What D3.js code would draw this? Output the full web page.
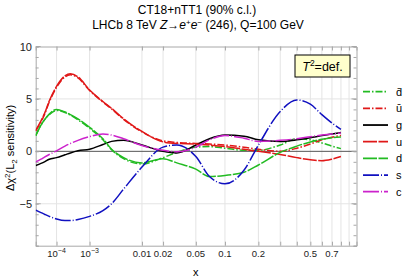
<!DOCTYPE html>
<html>
<head>
<meta charset="utf-8">
<script src="https://cdn.jsdelivr.net/npm/d3@7"></script>
<style>
  body { margin: 0; background: #fff; }
  svg { font-family: "Liberation Sans", Arial, sans-serif; }
</style>
</head>
<body>
<div id="chart-area"></div>
<script>
// x grid shared by all curves
const xGrid = [1e-5, 2e-5, 3e-5, 5e-5, 1e-4, 2e-4, 3e-4, 5e-4, 1e-3, 2e-3, 3e-3, 5e-3,
    0.01, 0.02, 0.03, 0.05, 0.07, 0.1, 0.15, 0.2, 0.3, 0.4, 0.5, 0.6, 0.7, 0.8];

// delta chi^2 values
const dbar = [1.5, 2.5, 3.0, 3.5, 3.9, 3.7, 3.45, 3.0, 2.2, 1.1, 0.15, -0.7, -1.2, -0.6, -0.1, 0.4, 0.45, 0.3, 0.1, 0.1, 0.6, 1.2, 1.1, 0.8, 0.5, 0.26];
const ubar = [1.95, 2.8, 3.5, 4.7, 6.1, 7.1, 7.3, 7.0, 5.8, 4.7, 4.05, 3.05, 1.85, 1.0, 0.85, 0.75, 0.7, 0.6, 0.4, 0.2, 0.0, 0.3, 0.7, 1.1, 1.35, 1.5];
const g = [-1.35, -1.15, -1.0, -0.75, -0.6, -0.33, -0.15, 0.05, 0.2, 0.65, 0.95, 1.05, 0.6, 0.0, -0.15, 0.6, 1.2, 1.55, 1.45, 1.1, 0.95, 1.1, 1.3, 1.5, 1.65, 1.8];
const u = [2.0, 2.9, 3.6, 4.8, 6.2, 7.2, 7.4, 7.1, 5.85, 4.75, 4.1, 3.1, 1.9, 0.9, 0.75, 0.7, 0.6, 0.45, 0.2, 0.0, -0.3, -0.6, -0.8, -0.9, -0.75, -0.5];
const d = [1.5, 2.5, 3.0, 3.55, 4.0, 3.75, 3.5, 3.1, 2.3, 1.2, 0.2, -0.6, -1.1, -0.7, -1.1, -1.7, -2.4, -2.3, -2.0, -1.3, -0.1, 0.5, 0.9, 1.15, 1.3, 1.37];
const s = [-5.6, -5.85, -6.0, -6.2, -6.45, -6.6, -6.6, -6.5, -6.2, -5.65, -5.0, -3.6, -1.5, 0.4, 0.6, -0.5, -2.4, -3.1, -1.8, 0.6, 3.8, 4.9, 4.5, 3.5, 2.7, 2.1];
const c = [-1.0, -0.75, -0.55, -0.3, 0.05, 0.5, 0.75, 1.05, 1.4, 1.65, 1.55, 1.2, 0.55, 0.1, -0.05, 0.4, 1.1, 1.5, 1.25, 0.95, 1.05, 1.2, 1.4, 1.55, 1.65, 1.75];

const seriesNames = ["d\u0304", "u\u0304", "g", "u", "d", "s", "c"];
const seriesValues = [dbar, ubar, g, u, d, s, c];
const seriesColors = ["#22bb22", "#e01818", "#000000", "#e01818", "#22bb22", "#1010c0", "#cc22cc"];
const seriesDash = ["7,2,1.5,2", "7,2,1.5,2", null, "14,1.5", "14,1.5", "16,2,1,2", "16,2,1,2"];

// axis ticks
const xTicks = [1e-4, 1e-3, 0.01, 0.02, 0.05, 0.1, 0.2, 0.3, 0.4, 0.5, 0.6, 0.7, 0.8, 0.9];
const xLabels = [
    { v: 1e-4, base: "10", exp: "\u22124" },
    { v: 1e-3, base: "10", exp: "\u22123" },
    { v: 0.01, base: "0.01" }, { v: 0.02, base: "0.02" }, { v: 0.05, base: "0.05" },
    { v: 0.1, base: "0.1" }, { v: 0.2, base: "0.2" }, { v: 0.5, base: "0.5" }, { v: 0.7, base: "0.7" }
];
const yMajor = [-5, 0, 5, 10];
const yLabels = ["\u22125", "0", "5", "10"];

const W = 407, H = 279;
const plot = { left: 35.7, right: 356.5, top: 46.5, bottom: 245.7 };

const svg = d3.select("#chart-area")
    .append("svg")
    .attr("width", W)
    .attr("height", H);

// scales: pow 0.2 on x, linear on y
const x = d3.scalePow().exponent(0.2)
    .domain([1e-5, 1])
    .range([plot.left, plot.right]);

const y = d3.scaleLinear()
    .domain([-9, 10])
    .range([plot.bottom, plot.top]);

// gridlines
svg.append("g").selectAll("line")
    .data(xTicks)
    .enter().append("line")
    .attr("x1", v => x(v)).attr("x2", v => x(v))
    .attr("y1", plot.top).attr("y2", plot.bottom)
    .attr("stroke", "#e4e4e4").attr("stroke-width", 1);

svg.append("g").selectAll("line")
    .data([-5, 5])
    .enter().append("line")
    .attr("x1", plot.left).attr("x2", plot.right)
    .attr("y1", v => y(v)).attr("y2", v => y(v))
    .attr("stroke", "#e4e4e4").attr("stroke-width", 1);

// zero line
svg.append("line")
    .attr("x1", plot.left).attr("x2", plot.right)
    .attr("y1", y(0)).attr("y2", y(0))
    .attr("stroke", "#555").attr("stroke-width", 1);

// axes with inward ticks
const bottomAxis = d3.axisBottom(x).tickValues(xTicks).tickSize(-4).tickFormat("");
const topAxis = d3.axisTop(x).tickValues(xTicks).tickSize(-4).tickFormat("");
const yTicksAll = d3.range(-9, 11);
const leftAxis = d3.axisLeft(y).tickValues(yTicksAll).tickSize(-3).tickFormat("");
const rightAxis = d3.axisRight(y).tickValues(yTicksAll).tickSize(-3).tickFormat("");

function styleAxis(sel) {
    sel.select(".domain").attr("stroke", "#a8a8a8");
    sel.selectAll(".tick line").attr("stroke", "#a8a8a8");
}

svg.append("g").attr("transform", `translate(0,${plot.bottom})`).call(bottomAxis).call(styleAxis);
svg.append("g").attr("transform", `translate(0,${plot.top})`).call(topAxis).call(styleAxis);
svg.append("g").attr("transform", `translate(${plot.left},0)`).call(leftAxis).call(styleAxis);
svg.append("g").attr("transform", `translate(${plot.right},0)`).call(rightAxis).call(styleAxis);

// longer major y ticks
[plot.left, plot.right].forEach((px, i) => {
    svg.append("g").selectAll("line")
        .data(yMajor)
        .enter().append("line")
        .attr("x1", px).attr("x2", i === 0 ? px + 5 : px - 5)
        .attr("y1", v => y(v)).attr("y2", v => y(v))
        .attr("stroke", "#a8a8a8");
});

// x tick labels
const xl = svg.append("g").selectAll("text")
    .data(xLabels)
    .enter().append("text")
    .attr("x", dd => x(dd.v))
    .attr("y", 257)
    .attr("text-anchor", "middle")
    .attr("font-size", "9.5px")
    .attr("fill", "#222");
xl.append("tspan").text(dd => dd.base);
xl.filter(dd => dd.exp).append("tspan")
    .attr("dy", -4).attr("font-size", "7px")
    .text(dd => dd.exp);

// y tick labels
svg.append("g").selectAll("text")
    .data(yMajor)
    .enter().append("text")
    .attr("x", 32)
    .attr("y", v => y(v) + 4)
    .attr("text-anchor", "end")
    .attr("font-size", "11px")
    .attr("fill", "#222")
    .text((v, i) => yLabels[i]);

// axis labels
svg.append("text")
    .attr("x", x(0.05))
    .attr("y", 276)
    .attr("text-anchor", "middle")
    .attr("font-size", "11px")
    .text("x");

const yl = svg.append("text")
    .attr("transform", "translate(14,148) rotate(-90)")
    .attr("text-anchor", "middle")
    .attr("font-size", "11px");
yl.append("tspan").text("\u0394\u03c7");
yl.append("tspan").attr("dy", -4).attr("font-size", "8px").text("2");
yl.append("tspan").attr("dy", 4).text("(L");
yl.append("tspan").attr("dy", 3).attr("font-size", "8px").text("2");
yl.append("tspan").attr("dy", -3).text(" sensitivity)");

// title
svg.append("text")
    .attr("x", 197).attr("y", 14)
    .attr("text-anchor", "middle")
    .attr("font-size", "12px")
    .text("CT18+nTT1 (90% c.l.)");

const t2 = svg.append("text")
    .attr("x", 198).attr("y", 29)
    .attr("text-anchor", "middle")
    .attr("font-size", "12px");
t2.append("tspan").text("LHCb 8 TeV ");
t2.append("tspan").attr("font-style", "italic").text("Z");
t2.append("tspan").text("\u2192");
t2.append("tspan").attr("font-style", "italic").text("e");
t2.append("tspan").attr("dy", -4).attr("font-size", "8px").text("+");
t2.append("tspan").attr("dy", 4).attr("font-style", "italic").text("e");
t2.append("tspan").attr("dy", -4).attr("font-size", "8px").text("\u2212");
t2.append("tspan").attr("dy", 4).text(" (246), Q=100 GeV");

// curves
svg.append("clipPath").attr("id", "clip")
    .append("rect")
    .attr("x", plot.left).attr("y", plot.top)
    .attr("width", plot.right - plot.left).attr("height", plot.bottom - plot.top);

const line = d3.line()
    .x((v, i) => x(xGrid[i]))
    .y(v => y(v))
    .curve(d3.curveMonotoneX);

const curves = svg.append("g").attr("clip-path", "url(#clip)");
seriesValues.forEach((vals, i) => {
    curves.append("path")
        .attr("d", line(vals))
        .attr("fill", "none")
        .attr("stroke", seriesColors[i])
        .attr("stroke-width", 1.5)
        .attr("stroke-dasharray", seriesDash[i]);
});

// T^2 box
svg.append("rect")
    .attr("x", 295).attr("y", 55)
    .attr("width", 55).attr("height", 22)
    .attr("fill", "#ffffcc")
    .attr("stroke", "#000").attr("stroke-width", 1);
const tt = svg.append("text")
    .attr("x", 322.5).attr("y", 71)
    .attr("text-anchor", "middle")
    .attr("font-size", "12.5px");
tt.append("tspan").attr("font-style", "italic").text("T");
tt.append("tspan").attr("dy", -5).attr("font-size", "8.5px").text("2");
tt.append("tspan").attr("dy", 5).text("=def.");

// legend
const legend = svg.append("g").selectAll("g")
    .data(seriesNames)
    .enter().append("g")
    .attr("transform", (n, i) => `translate(0,${91.7 + i * 16.67})`);

legend.append("line")
    .attr("x1", 363).attr("x2", 388)
    .attr("y1", 0).attr("y2", 0)
    .attr("stroke", (n, i) => seriesColors[i])
    .attr("stroke-width", 1.8)
    .attr("stroke-dasharray", (n, i) => seriesDash[i]);

legend.append("text")
    .attr("x", 396)
    .attr("y", 4)
    .attr("font-size", "11px")
    .text(n => n);
</script>
</body>
</html>
